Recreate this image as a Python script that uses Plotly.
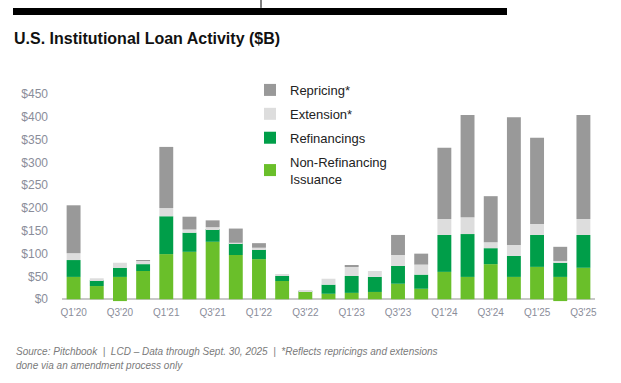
import plotly.graph_objects as go

# ---- data ----
quarters = ["Q1'20", "Q2'20", "Q3'20", "Q4'20",
            "Q1'21", "Q2'21", "Q3'21", "Q4'21",
            "Q1'22", "Q2'22", "Q3'22", "Q4'22",
            "Q1'23", "Q2'23", "Q3'23", "Q4'23",
            "Q1'24", "Q2'24", "Q3'24", "Q4'24",
            "Q1'25", "Q2'25", "Q3'25"]
non_refinancing = [49, 29, 49, 62, 99, 104, 126, 97, 88, 40, 16, 12,
                   14, 16, 34, 23, 60, 49, 77, 49, 71, 49, 69]
refinancings = [37, 13, 20, 15, 83, 42, 28, 26, 22, 11, 2, 20,
                37, 33, 39, 31, 81, 94, 35, 46, 70, 31, 72]
extension = [15, 4, 11, 7, 18, 7, 4, 1, 3, 4, 2, 13,
             20, 13, 24, 22, 35, 37, 13, 24, 24, 4, 35]
repricing = [105, 0, 0, 2, 134, 28, 15, 31, 10, 0, 0, 0,
             4, 0, 44, 24, 156, 224, 101, 280, 189, 31, 228]
negative_adj = [0, 0, -4, 0, 0, 0, 0, 0, 0, 0, 0, 0,
                0, 0, 0, 0, 0, 0, 0, 0, 0, -4, 0]
tick_labels = [q for q in quarters if q.startswith("Q1") or q.startswith("Q3")]
y_ticks = [0, 50, 100, 150, 200, 250, 300, 350, 400, 450]
y_tick_text = ["$" + str(v) for v in y_ticks]

C_REP = "#999999"
C_EXT = "#dddddd"
C_REF = "#009e49"
C_NON = "#6abf2a"

W, H = 621, 383
L, R = 62, 595           # plot area left/right in px
TOP, BOT = 94, 301.7     # plot area top/bottom in px

def px_x(p):
    return (p - L) / (R - L)

def px_y(p):
    return (BOT - p) / (BOT - TOP)

fig = go.Figure()
fig.add_bar(x=quarters, y=non_refinancing, name="Non-Refinancing<br>Issuance",
            marker_color=C_NON, legendgroup="d", legendrank=1004)
fig.add_bar(x=quarters, y=refinancings, name="Refinancings",
            marker_color=C_REF, legendgroup="c", legendrank=1003)
fig.add_bar(x=quarters, y=extension, name="Extension*",
            marker_color=C_EXT, legendgroup="b", legendrank=1002)
fig.add_bar(x=quarters, y=repricing, name="Repricing*",
            marker_color=C_REP, legendgroup="a", legendrank=1001)
fig.add_bar(x=quarters, y=negative_adj, name="adj", showlegend=False,
            marker_color=C_NON, legendgroup="e", legendrank=1005)
fig.update_traces(marker_line_width=0, hoverinfo="skip")

shapes = [
    dict(type="rect", xref="paper", yref="paper",
         x0=px_x(13), x1=px_x(507), y0=px_y(15), y1=px_y(8),
         fillcolor="#000000", line_width=0),
    dict(type="line", xref="paper", yref="paper",
         x0=px_x(261), x1=px_x(261), y0=px_y(8), y1=px_y(-1),
         line=dict(color="#000000", width=1)),
]

src_font = dict(family="Liberation Sans, Arial, sans-serif", size=10, color="#7a7a7a")

fig.update_layout(
    width=W, height=H,
    margin=dict(l=L, r=W - R, t=TOP, b=H - BOT),
    paper_bgcolor="white", plot_bgcolor="white",
    barmode="relative", bargap=0.4,
    font=dict(family="Liberation Sans, Arial, sans-serif", color="#222222"),
    title=dict(text="<b>U.S. Institutional Loan Activity ($B)</b>",
               x=14 / W, xref="container", xanchor="left",
               y=1 - 38 / H, yref="container", yanchor="middle",
               font=dict(family="Liberation Sans, Arial, sans-serif",
                         size=16, color="#111111")),
    xaxis=dict(type="category", tickmode="array", tickvals=tick_labels,
               ticktext=tick_labels, showgrid=False, showline=False,
               ticks="", ticklabelstandoff=3,
               tickfont=dict(size=10, color="#8a8d9a"),
               range=[-0.5, len(quarters) - 0.5]),
    yaxis=dict(range=[-6, 450], tickmode="array",
               tickvals=y_ticks, ticktext=y_tick_text,
               showgrid=False, showline=False,
               zeroline=True, zerolinecolor="#c8c8c8", zerolinewidth=1.5,
               ticks="", ticklabelstandoff=13,
               tickfont=dict(size=12, color="#8a8d9a")),
    legend=dict(x=px_x(250), xanchor="left", y=px_y(75), yanchor="top",
                traceorder="grouped", tracegroupgap=4,
                font=dict(size=13, color="#222222"),
                bgcolor="rgba(0,0,0,0)"),
    shapes=shapes,
    annotations=[
        dict(text="<i>Source: Pitchbook  |  LCD – Data through Sept. 30, 2025  |  *Reflects repricings and extensions</i>",
             xref="paper", yref="paper", x=px_x(14), y=px_y(350.7),
             xanchor="left", yanchor="middle", align="left", showarrow=False,
             font=src_font),
        dict(text="<i>done via an amendment process only</i>",
             xref="paper", yref="paper", x=px_x(14), y=px_y(365.5),
             xanchor="left", yanchor="middle", align="left", showarrow=False,
             font=src_font),
    ],
)

fig.write_html("out.html", config={"displayModeBar": False},
               post_script="document.body.style.margin='0px';")
